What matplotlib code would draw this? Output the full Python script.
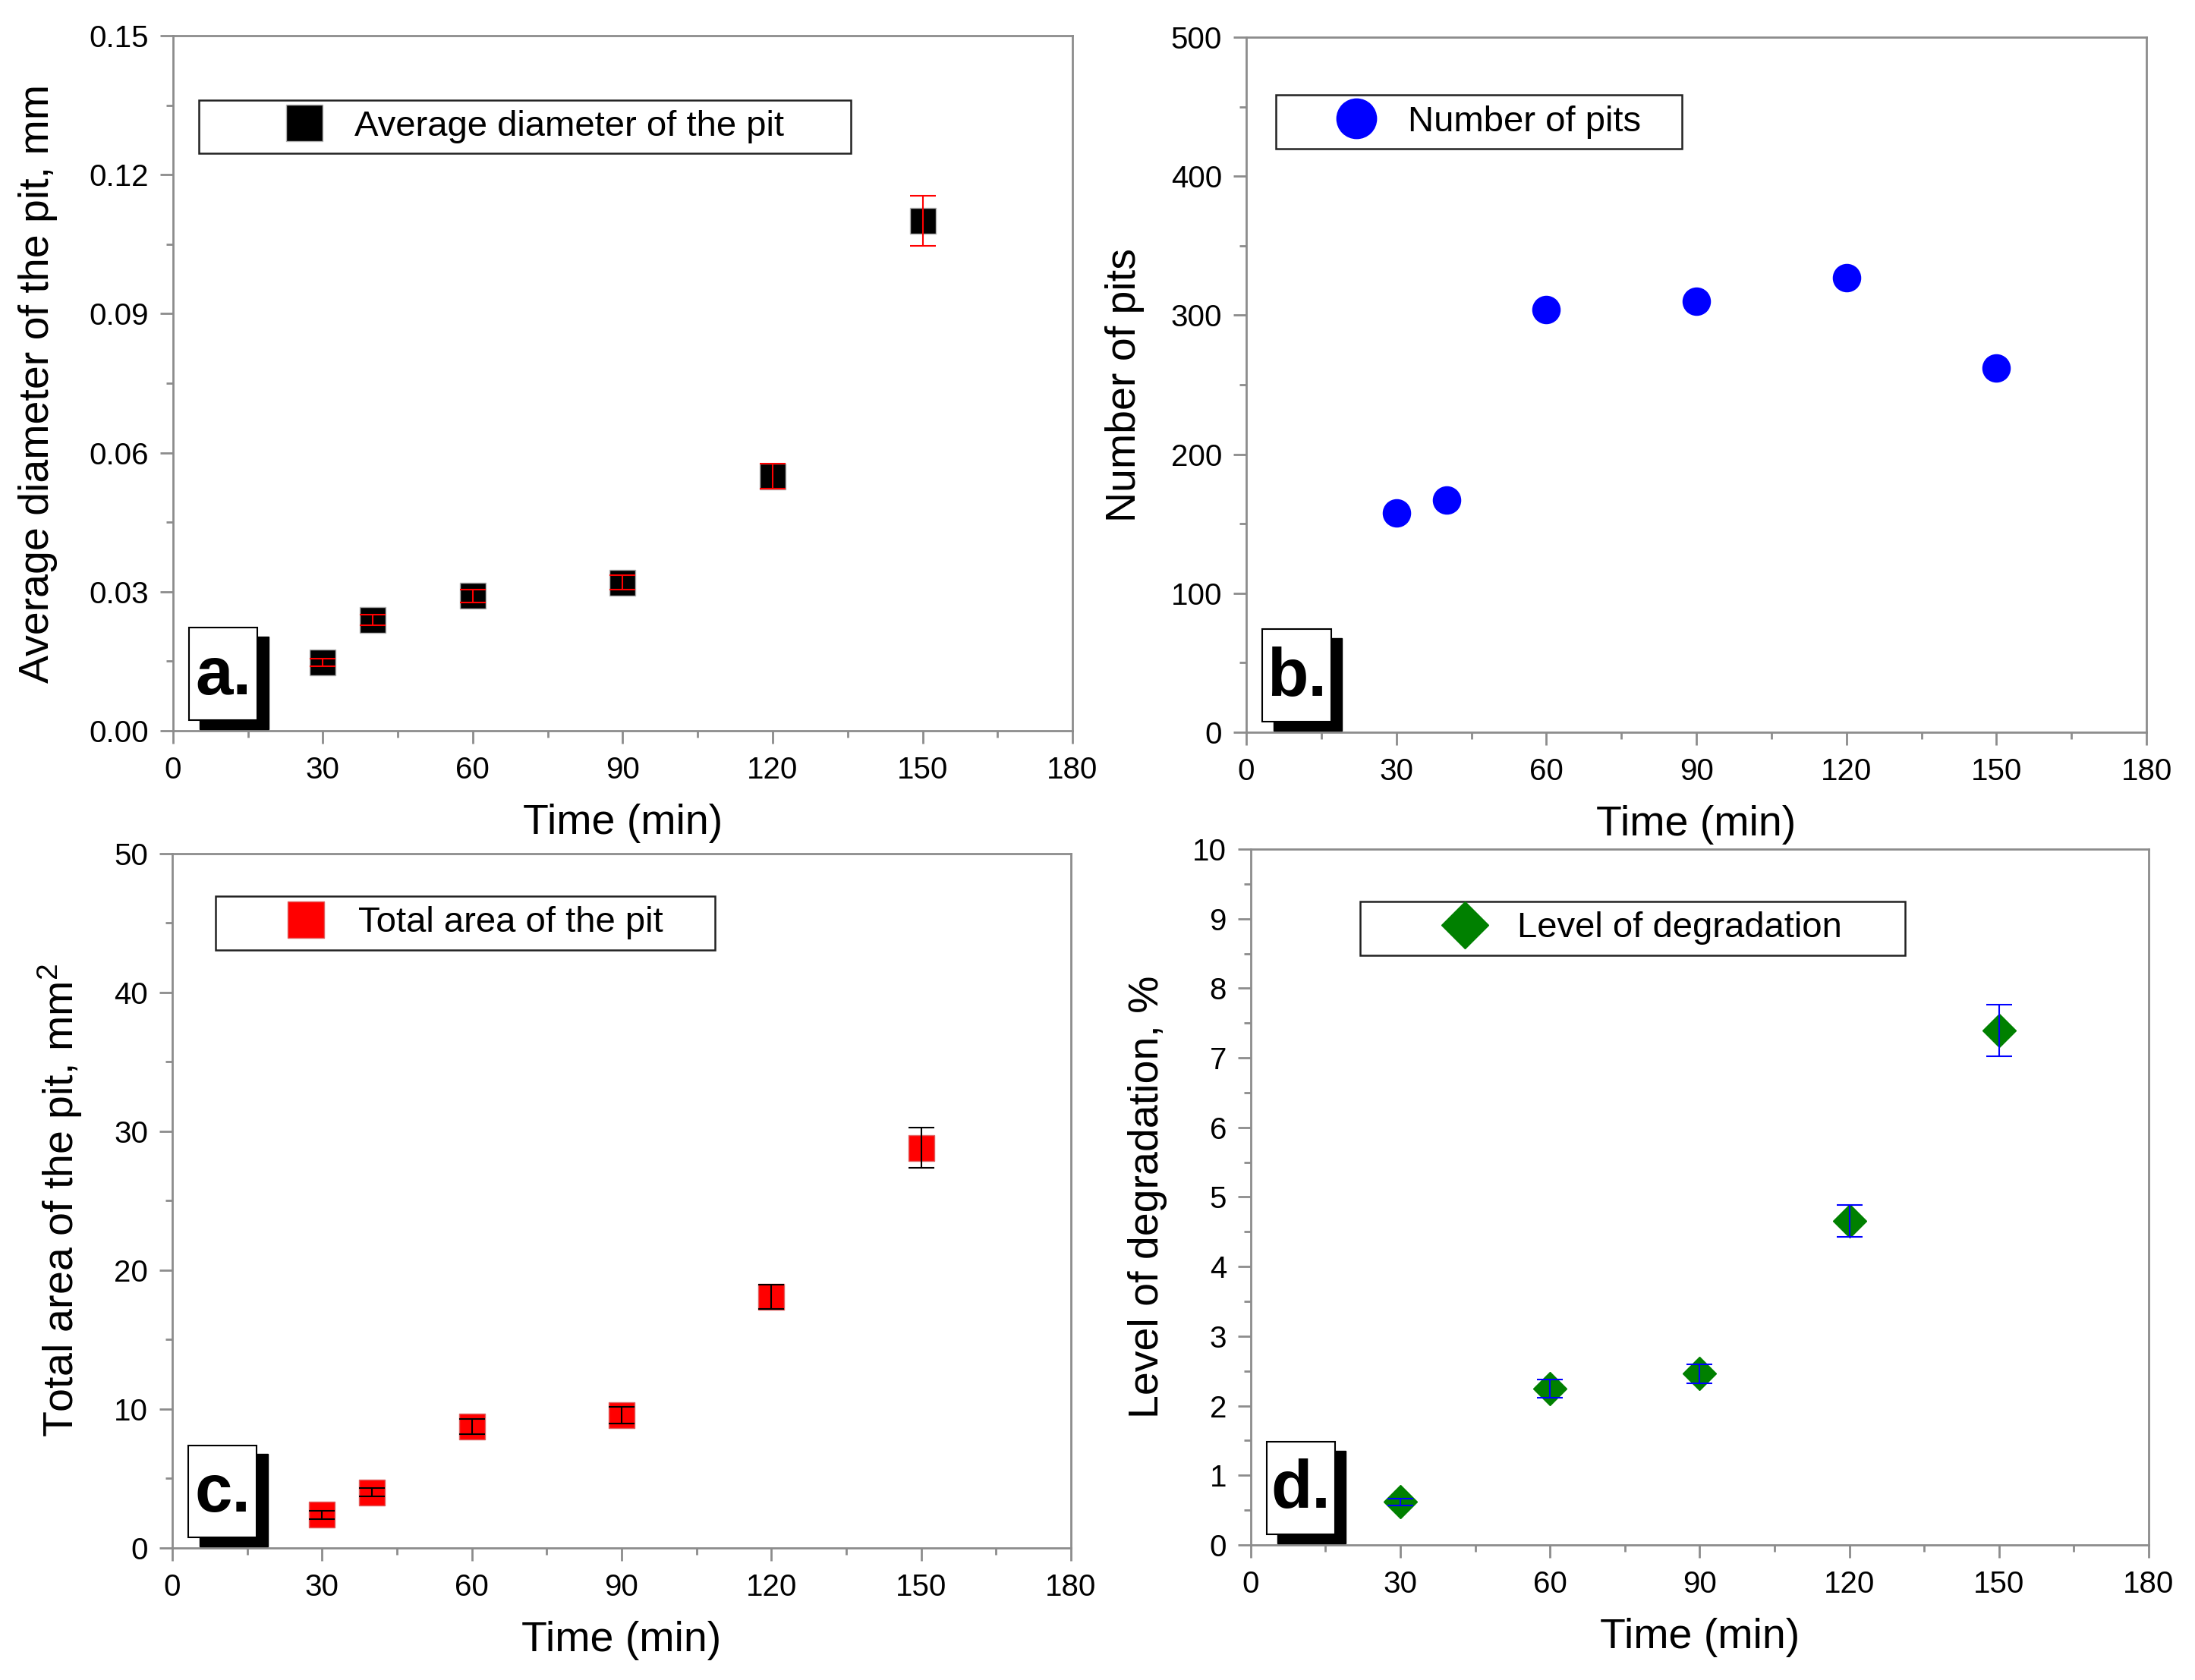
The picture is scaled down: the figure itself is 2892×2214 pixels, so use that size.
import numpy as np
import matplotlib
matplotlib.use('Agg')
import matplotlib.pyplot as plt
from matplotlib.patches import Rectangle
from matplotlib.ticker import MultipleLocator, FormatStrFormatter

plt.rcParams['font.family'] = ['Liberation Sans', 'DejaVu Sans']
plt.rcParams['mathtext.default'] = 'regular'

# a. average pit diameter
timeA = [30, 40, 60, 90, 120, 150]
diameter = [0.0148, 0.0239, 0.0291, 0.0320, 0.0549, 0.1100]
diameterErr = [0.0008, 0.0011, 0.00145, 0.0016, 0.0027, 0.0054]

# b. number of pits
timeB = [30, 40, 60, 90, 120, 150]
pits = [158, 167, 304, 310, 327, 262]

# c. total pit area
timeC = [30, 40, 60, 90, 120, 150]
area = [2.4, 4.0, 8.75, 9.55, 18.1, 28.8]
areaErr = [0.3, 0.3, 0.55, 0.6, 0.87, 1.45]

# d. level of degradation
timeD = [30, 60, 90, 120, 150]
degradation = [0.62, 2.25, 2.46, 4.66, 7.39]
degradationErr = [0.05, 0.13, 0.14, 0.23, 0.37]

spineCol = '#8c8c8c'

fig = plt.figure(figsize=(28.92, 22.14), dpi=100)
axA = fig.add_axes([0.0788, 0.5650, 0.4098, 0.4138])
axB = fig.add_axes([0.5678, 0.5641, 0.4101, 0.4138])
axC = fig.add_axes([0.0785, 0.0786, 0.4094, 0.4133])
axD = fig.add_axes([0.5698, 0.0804, 0.4091, 0.4142])


def style_axes(ax, ymax, ymajor, yfmt, ylabel, ypad):
    ax.set_xlim(0, 180)
    ax.set_ylim(0, ymax)
    ax.xaxis.set_major_locator(MultipleLocator(30))
    ax.xaxis.set_minor_locator(MultipleLocator(15))
    ax.yaxis.set_major_locator(MultipleLocator(ymajor))
    ax.yaxis.set_minor_locator(MultipleLocator(ymajor / 2))
    ax.yaxis.set_major_formatter(FormatStrFormatter(yfmt))
    for s in ax.spines.values():
        s.set_color(spineCol)
        s.set_linewidth(2)
    ax.tick_params(which='both', direction='out', color=spineCol, width=2,
                   top=False, right=False, labelsize=29)
    ax.tick_params(which='major', length=12)
    ax.tick_params(which='minor', length=6.5)
    ax.tick_params(axis='x', pad=12)
    ax.tick_params(axis='y', pad=11)
    ax.set_xlabel('Time (min)', fontsize=40, labelpad=18)
    ax.set_ylabel(ylabel, fontsize=40, labelpad=ypad)


def panel_tag(ax, letter):
    ax.add_patch(Rectangle((0.030, 0.002), 0.076, 0.133, transform=ax.transAxes,
                           facecolor='black', edgecolor='black', zorder=4))
    ax.add_patch(Rectangle((0.018, 0.015), 0.076, 0.133, transform=ax.transAxes,
                           facecolor='white', edgecolor='black', lw=1.5, zorder=5))
    ax.text(0.056, 0.078, letter, transform=ax.transAxes, ha='center', va='center',
            fontsize=64, fontweight='bold', zorder=6)


def add_legend(ax, x0, w, yc, hl, htp):
    leg = ax.legend(loc='center', bbox_to_anchor=(x0, yc - 0.04, w, 0.08), mode='expand',
                    borderaxespad=0, fontsize=34, markerscale=1.45, handlelength=hl - 0.26,
                    handletextpad=htp + 0.13, borderpad=0.28, fancybox=False, numpoints=1)
    leg.get_frame().set_edgecolor('#222222')
    leg.get_frame().set_linewidth(1.8)
    leg.get_frame().set_alpha(1)
    return leg


# panel a
axA.plot(timeA, diameter, ls='none', marker='s', ms=24, color='black',
         mec='#b0b0b0', mew=1, label='Average diameter of the pit', zorder=2)
axA.errorbar(timeA, diameter, yerr=diameterErr, fmt='none', ecolor='red',
             elinewidth=1.5, capsize=12, capthick=1.5, zorder=3)
style_axes(axA, 0.15, 0.03, '%.2f', 'Average diameter of the pit, mm', 30)
add_legend(axA, 0.029, 0.725, 0.869, 5.59, -1.40)
panel_tag(axA, 'a.')

# panel b
axB.plot(timeB, pits, ls='none', marker='o', ms=26, color='blue',
         mec='blue', label='Number of pits', zorder=2)
style_axes(axB, 500, 100, '%d', 'Number of pits', 25)
add_legend(axB, 0.033, 0.451, 0.878, 4.19, -0.66)
panel_tag(axB, 'b.')

# panel c
axC.plot(timeC, area, ls='none', marker='s', ms=24, color='red',
         mec='#e06060', mew=1, label='Total area of the pit', zorder=2)
axC.errorbar(timeC, area, yerr=areaErr, fmt='none', ecolor='black',
             elinewidth=1.5, capsize=12, capthick=1.5, zorder=3)
style_axes(axC, 50, 10, '%d', 'Total area of the pit, mm$^2$', 28)
add_legend(axC, 0.048, 0.556, 0.900, 4.75, -0.91)
panel_tag(axC, 'c.')

# panel d
axD.plot(timeD, degradation, ls='none', marker='D', ms=22, color='green',
         mec='green', label='Level of degradation', zorder=2)
axD.errorbar(timeD, degradation, yerr=degradationErr, fmt='none', ecolor='blue',
             elinewidth=1.5, capsize=12, capthick=1.5, zorder=3)
style_axes(axD, 10, 1, '%d', 'Level of degradation, %', 24)
add_legend(axD, 0.122, 0.607, 0.886, 5.55, -1.33)
panel_tag(axD, 'd.')

fig.savefig('out.png', dpi=100, facecolor='white')
